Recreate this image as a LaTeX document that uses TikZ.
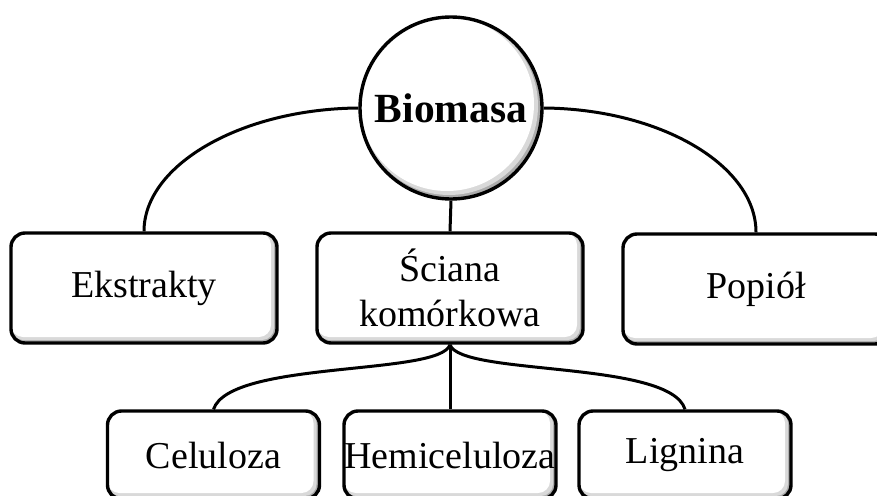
\documentclass[tikz,border=0pt]{standalone}
\usepackage{fontspec}
\setmainfont{Liberation Serif}
\begin{document}
\begin{tikzpicture}[x=1pt,y=-1pt,
  label font/.style={font=\fontsize{38}{45}\selectfont},
  leaf/.style={draw, line width=3.4pt, rounded corners=14pt, fill=gray!65,
    inner sep=0pt, align=center, label font,
    path picture={
      \fill[gray!30, rounded corners=12pt]
        (path picture bounding box.north west) rectangle
        ([xshift=-3pt,yshift=3pt]path picture bounding box.south east);
      \fill[white, rounded corners=12pt]
        (path picture bounding box.north west) rectangle
        ([xshift=-6pt,yshift=6pt]path picture bounding box.south east);}},
  toprow/.style={leaf, minimum width=266pt, minimum height=110pt},
  botrow/.style={leaf, minimum width=212pt, minimum height=88pt},
  hub/.style={circle, draw, line width=3.4pt, minimum size=182pt, inner sep=0pt,
    fill=gray!65, font=\fontsize{41.5}{46}\selectfont\bfseries,
    path picture={
      \fill[gray!30] ([xshift=-2pt,yshift=2pt]path picture bounding box.center) circle (89pt);
      \fill[white] ([xshift=-4pt,yshift=4pt]path picture bounding box.center) circle (87pt);}},
  link/.style={line width=3pt}]
\useasboundingbox (0,0) rectangle (877,495);
\clip (0,0) rectangle (877,495);

% root
\node[hub] (bio) at (451,108) {Biomasa};

% first level
\node[toprow] (ekst) at (144,288) {Ekstrakty};
\node[toprow] (sc)   at (450,288) {Ściana\\komórkowa};
\node[toprow] (pop)  at (756,289) {Popiół};

% second level
\node[botrow] (cel)  at (213.5,455) {Celuloza};
\node[botrow] (hem)  at (450,455) {Hemiceluloza};
\node[botrow] (lig)  at (685,455) {Lignina};

% connectors from the root
\draw[link] (bio.west) .. controls (241,109) and (ekst.north |- 0,165) .. (ekst.north);
\draw[link] (bio.east) .. controls (660,109) and (pop.north |- 0,165) .. (pop.north);
\draw[link] (bio.south) -- (sc.north);

% connectors from the cell wall
\draw[link] (sc.south) .. controls (440,376) and (230,360) .. (cel.north);
\draw[link] (sc.south) -- (hem.north);
\draw[link] (sc.south) .. controls (460,376) and (670,360) .. (lig.north);
\end{tikzpicture}
\end{document}
